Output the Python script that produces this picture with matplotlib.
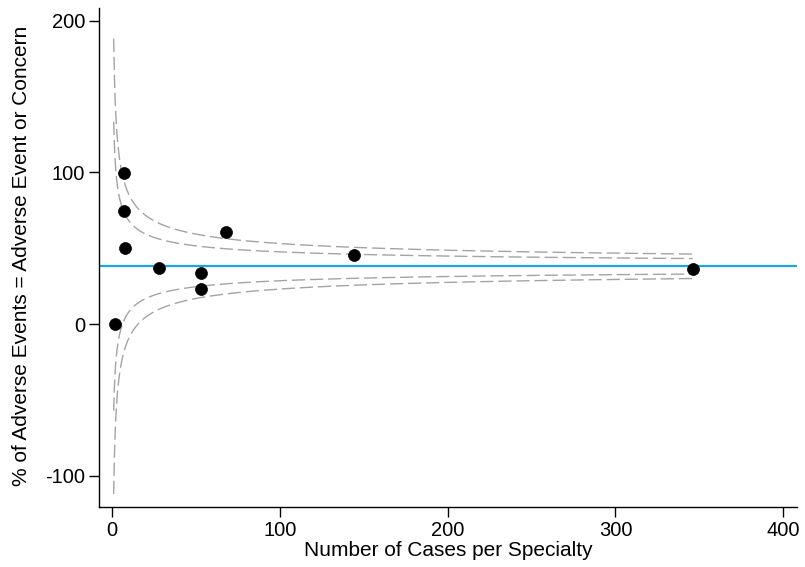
import numpy as np
import matplotlib
matplotlib.use("Agg")
import matplotlib.pyplot as plt

plt.rcParams['font.family'] = ['Liberation Sans', 'DejaVu Sans']
plt.rcParams['axes.unicode_minus'] = False

# Data
cases = [2, 7, 7, 8, 28, 53, 53, 68, 144, 346]
pct_events = [0, 99.8, 74.6, 50, 37.2, 33.9, 23.3, 60.9, 45.4, 36.3]
mean_pct = 38.1
z_inner = 1.96
z_outer = 3.09
n_min, n_max = 1, 346

# Funnel control limits (normal approximation for a proportion)
n = np.linspace(n_min, n_max, 800)
p = mean_pct / 100
se = np.sqrt(p * (1 - p) / n) * 100

fig = plt.figure(figsize=(8.05, 5.67), dpi=100)
ax = fig.add_axes([99 / 805, 1 - 507 / 567, 697.7 / 805, 499 / 567])

dash = (0, (9.5, 3.5))
for z in (z_inner, z_outer):
    ax.plot(n, mean_pct + z * se, color='#a4a4a4', lw=1, linestyle=dash)
    ax.plot(n, mean_pct - z * se, color='#a4a4a4', lw=1, linestyle=dash)

ax.axhline(mean_pct, color='#1ba6e2', lw=1.6, zorder=2)
ax.plot(cases, pct_events, 'o', color='black', markersize=8.6, mew=0.5, zorder=3)

ax.set_xlim(-7.75, 408)
ax.set_ylim(-120.6, 208.4)
ax.set_xticks([0, 100, 200, 300, 400])
ax.set_yticks([-100, 0, 100, 200])
ax.tick_params(direction='out', length=7, width=1, pad=3, labelsize=14.5, color='black')
ax.spines['top'].set_visible(False)
ax.spines['right'].set_visible(False)
for side in ('left', 'bottom'):
    ax.spines[side].set_linewidth(1)

fig.text(448 / 805, 1 - 551 / 567, 'Number of Cases per Specialty',
         fontsize=15, ha='center', va='center')
fig.text(22 / 805, 1 - 256 / 567, '% of Adverse Events = Adverse Event or Concern',
         fontsize=15, ha='center', va='center', rotation=90)

fig.savefig('out.png', dpi=100)
